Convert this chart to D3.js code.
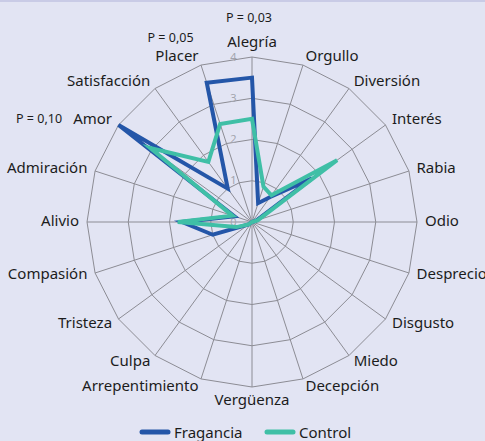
<!DOCTYPE html>
<html>
<head>
<meta charset="utf-8">
<script src="https://cdn.jsdelivr.net/npm/d3@7.9.0/dist/d3.min.js"></script>
<style>
  html, body { margin: 0; padding: 0; background: #e2e4f3; }
  svg { display: block; font-family: "Noto Sans", "Open Sans", sans-serif; }
</style>
</head>
<body>
<div id="chart"></div>
<script>
// emotions, clockwise from the top
const categories = ['Alegría', 'Orgullo', 'Diversión', 'Interés', 'Rabia', 'Odio', 'Desprecio',
  'Disgusto', 'Miedo', 'Decepción', 'Vergüenza', 'Arrepentimiento', 'Culpa', 'Tristeza',
  'Compasión', 'Alivio', 'Admiración', 'Amor', 'Satisfacción', 'Placer'];

const fragancia = [3.5, 0.48, 0.75, 1.8, 0.1, 0, 0, 0, 0, 0, 0, 0, 0, 0.1, 1.0, 1.7, 0.45, 4.0, 1.0, 3.55];
const control   = [2.5, 0.9, 0.8, 2.55, 0.15, 0, 0, 0, 0, 0, 0, 0, 0, 0.1, 0.4, 1.8, 0.5, 3.05, 1.8, 2.5];

const ticks = [0, 1, 2, 3, 4];

const seriesNames = ['Fragancia', 'Control'];
const pValues = [
  { cat: 'Alegría', text: 'P = 0,03' },
  { cat: 'Placer', text: 'P = 0,05' },
  { cat: 'Amor', text: 'P = 0,10' },
];

const width = 485;
const height = 441;
const cx = 252, cy = 222;
const R = 165;

const colors = { Fragancia: '#2456a8', Control: '#3fbfa6' };

const svg = d3.select('#chart')
  .append('svg')
  .attr('width', width)
  .attr('height', height);

svg.append('rect').attr('width', width).attr('height', height).attr('fill', '#e2e4f3');
svg.append('rect').attr('width', width).attr('height', 2).attr('fill', '#c9cbe6');

const g = svg.append('g').attr('transform', `translate(${cx},${cy})`);

const rScale = d3.scaleLinear().domain([0, 4]).range([0, R]);
const angle = (i) => (i / categories.length) * 2 * Math.PI;

// ----- grid rings -----
const ring = d3.lineRadial()
  .angle((d, i) => angle(i))
  .radius((d) => rScale(d))
  .curve(d3.curveLinearClosed);

g.append('g')
  .attr('class', 'rings')
  .selectAll('path')
  .data(ticks.slice(1))
  .join('path')
  .attr('d', (t) => ring(categories.map(() => t)))
  .attr('fill', 'none')
  .attr('stroke', '#8c8c94')
  .attr('stroke-width', 1);

// ----- spokes -----
g.append('g')
  .attr('class', 'spokes')
  .selectAll('line')
  .data(categories)
  .join('line')
  .attr('x1', 0).attr('y1', 0)
  .attr('x2', (d, i) => rScale(4) * Math.sin(angle(i)))
  .attr('y2', (d, i) => -rScale(4) * Math.cos(angle(i)))
  .attr('stroke', '#8c8c94')
  .attr('stroke-width', 1);

// ----- tick labels -----
g.append('g')
  .selectAll('text')
  .data(ticks)
  .join('text')
  .attr('x', -18.5)
  .attr('y', (d) => -rScale(d) - 1)
  .attr('text-anchor', 'middle')
  .attr('dominant-baseline', 'central')
  .attr('font-size', 11)
  .attr('fill', '#a3a4ad')
  .text((d) => d);

// ----- category labels -----
const labelPos = (i) => {
  const a = angle(i);
  const s = Math.sin(a), c = Math.cos(a);
  const off = Math.abs(s) < 0.01 ? R + 14 : R + 8;
  return { x: off * s, y: -off * c - 2, s };
};

g.append('g')
  .selectAll('text')
  .data(categories)
  .join('text')
  .attr('x', (d, i) => labelPos(i).x)
  .attr('y', (d, i) => labelPos(i).y)
  .attr('text-anchor', (d, i) => {
    const s = labelPos(i).s;
    return Math.abs(s) < 0.01 ? 'middle' : s > 0 ? 'start' : 'end';
  })
  .attr('dominant-baseline', 'central')
  .attr('font-size', 15)
  .attr('fill', '#1c1c1c')
  .text((d) => d);

// ----- p value notes -----
const pNotes = g.append('g');
pValues.forEach((p) => {
  const i = categories.indexOf(p.cat);
  const pos = labelPos(i);
  let x = pos.x, y = pos.y, anchor = 'middle';
  if (p.cat === 'Alegría') { y = pos.y - 24; x = -3; }
  else if (p.cat === 'Placer') { y = pos.y - 18; x = pos.x - 28; }
  else { x = pos.x - 50; anchor = 'end'; }
  pNotes.append('text')
    .attr('x', x)
    .attr('y', y)
    .attr('text-anchor', anchor)
    .attr('dominant-baseline', 'central')
    .attr('font-size', 12.5)
    .attr('fill', '#1c1c1c')
    .text(p.text);
});

// ----- series -----
const series = [
  { name: 'Fragancia', values: fragancia },
  { name: 'Control', values: control },
];

const radarLine = d3.lineRadial()
  .angle((d, i) => angle(i))
  .radius((d) => rScale(d))
  .curve(d3.curveLinearClosed);

g.append('g')
  .selectAll('path')
  .data(series)
  .join('path')
  .attr('d', (d) => radarLine(d.values))
  .attr('fill', 'none')
  .attr('stroke', (d) => colors[d.name])
  .attr('stroke-width', 4)
  .attr('stroke-linejoin', 'miter')
  .attr('stroke-miterlimit', 6);

// ----- legend -----
const legend = svg.append('g').attr('transform', 'translate(142,432)');
const legendX = d3.scaleOrdinal().domain(seriesNames).range([0, 125]);

const items = legend.selectAll('g')
  .data(seriesNames)
  .join('g')
  .attr('transform', (d) => `translate(${legendX(d)},0)`);

items.append('line')
  .attr('x1', 0).attr('x2', 26)
  .attr('y1', 0).attr('y2', 0)
  .attr('stroke', (d) => colors[d])
  .attr('stroke-width', 5)
  .attr('stroke-linecap', 'round');

items.append('text')
  .attr('x', 32)
  .attr('y', 0)
  .attr('dominant-baseline', 'central')
  .attr('font-size', 15)
  .attr('fill', '#1c1c1c')
  .text((d) => d);
</script>
</body>
</html>
